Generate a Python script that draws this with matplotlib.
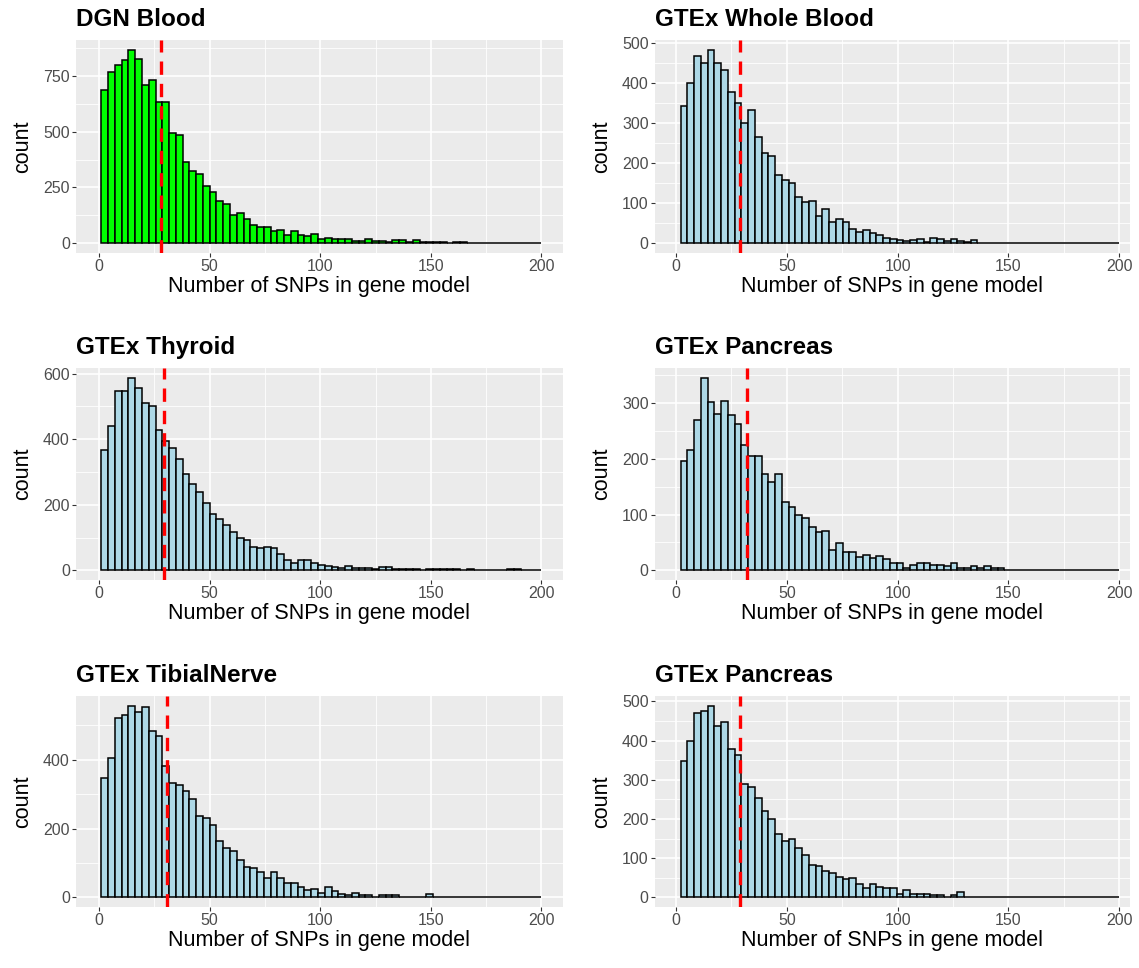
import numpy as np
import matplotlib
matplotlib.use('Agg')
import matplotlib.pyplot as plt

plt.rcParams['font.family'] = ['Liberation Sans', 'DejaVu Sans']

# Histogram counts per bin (65 bins).
dgnBlood = [685, 765, 798, 819, 867, 825, 709, 732, 634, 634, 492, 485, 364, 324, 310,
            256, 229, 188, 175, 127, 136, 107, 80, 72, 72, 53, 60, 38, 53, 38,
            32, 41, 18, 26, 18, 18, 18, 11, 11, 20, 12, 12, 5, 14, 14, 5, 14,
            4, 4, 4, 4, 0, 4, 4, 0, 3, 3, 3, 3, 3, 3, 3, 3, 3, 0]
wholeBlood = [344, 400, 468, 450, 484, 450, 434, 378, 351, 301, 333, 265, 226, 219, 171,
              159, 150, 116, 103, 105, 68, 87, 53, 60, 53, 36, 29, 34, 25, 22,
              14, 11, 8, 6, 8, 11, 3, 14, 11, 6, 11, 6, 3, 8, 2, 2, 2, 0, 2, 0,
              2, 2, 2, 2, 2, 2, 0, 2, 2, 0, 0, 0, 0, 0, 0]
thyroid = [368, 441, 547, 547, 588, 557, 511, 501, 429, 396, 373, 341, 294, 262, 239,
           205, 171, 157, 139, 118, 100, 92, 72, 69, 72, 69, 51, 31, 21, 31,
           31, 23, 15, 12, 10, 7, 12, 7, 7, 7, 3, 10, 10, 3, 3, 3, 3, 0, 3, 3,
           3, 3, 3, 0, 3, 0, 0, 0, 0, 0, 3, 3, 0, 0, 0]
pancreas = [196, 216, 269, 345, 302, 280, 304, 278, 262, 224, 205, 205, 172, 159, 172,
            122, 113, 100, 94, 78, 68, 70, 37, 49, 32, 32, 24, 27,
            22, 26, 21, 13, 13, 4, 10, 13, 13, 9, 10, 8, 14, 4, 4, 8, 4, 8, 4, 4,
            1, 1, 1, 1, 1, 0, 1, 1, 0, 0, 1, 0, 1, 1, 0, 1, 0]
tibialNerve = [348, 404, 522, 531, 557, 539, 552, 483, 470, 383, 333, 325, 308, 287, 236,
               230, 210, 165, 143, 134, 108, 88, 84, 73, 56, 73, 56, 43, 43, 29,
               21, 24, 14, 29, 19, 10, 7, 12, 7, 7, 2, 8, 8, 8, 2, 2, 2, 2, 9, 0,
               2, 2, 2, 2, 0, 2, 2, 2, 2, 2, 0, 0, 0, 0, 0]
pancreas2 = [347, 400, 469, 476, 489, 438, 447, 378, 362, 290, 282, 253, 221, 201, 161,
             145, 148, 125, 107, 83, 79, 68, 61, 53, 47, 49, 34, 25,
             34, 26, 24, 24, 9, 19, 9, 9, 9, 7, 7, 2, 7, 13, 2, 2, 0, 2, 0, 0,
             2, 0, 2, 0, 0, 0, 2, 2, 0, 2, 0, 0, 0, 0, 0, 0, 0]

titles = ['DGN Blood', 'GTEx Whole Blood', 'GTEx Thyroid', 'GTEx Pancreas',
          'GTEx TibialNerve', 'GTEx Pancreas']
allCounts = [dgnBlood, wholeBlood, thyroid, pancreas, tibialNerve, pancreas2]
binStart = [1.0, 2.1, 1.0, 2.1, 1.0, 2.1]
binEnd = [200.0, 200.0, 200.0, 200.0, 200.0, 200.0]
meanLine = [27.9, 28.8, 29.3, 32.1, 30.5, 28.8]
fillColors = ['#00FF00', '#ADD8E6', '#ADD8E6', '#ADD8E6', '#ADD8E6', '#ADD8E6']
yStep = [250, 100, 200, 100, 200, 100]

W, H = 1139, 968
fig = plt.figure(figsize=(W / 100, H / 100), dpi=100)

# panel boxes in pixels: left, right, top, bottom
colX = [(76, 563), (655, 1130)]
colXlim = [(-10.5, 209.8), (-9.5, 204.9)]
rowY = [(40, 253), (368, 580), (696, 907)]

for i in range(6):
    r, c = i // 2, i % 2
    x0, x1 = colX[c]
    y0, y1 = rowY[r]
    ax = fig.add_axes([x0 / W, 1 - y1 / H, (x1 - x0) / W, (y1 - y0) / H])
    counts = np.array(allCounts[i])
    edges = np.linspace(binStart[i], binEnd[i], len(counts) + 1)
    ax.set_facecolor('#EBEBEB')
    ax.set_axisbelow(True)
    ax.bar(edges[:-1], counts, width=np.diff(edges), align='edge',
           color=fillColors[i], edgecolor='black', linewidth=1.1, zorder=2)
    ax.axvline(meanLine[i], color='red', linewidth=2.4, linestyle=(0, (4, 2.7)), zorder=3)

    ax.set_xlim(*colXlim[c])
    ymax = counts.max()
    ax.set_ylim(-0.05 * ymax, 1.05 * ymax)

    ax.set_xticks([0, 50, 100, 150, 200])
    ax.set_xticks([25, 75, 125, 175], minor=True)
    step = yStep[i]
    ax.set_yticks(np.arange(0, ymax * 1.05 + 1, step))
    ax.set_yticks(np.arange(step / 2, ymax * 1.05 + 1, step), minor=True)
    ax.grid(which='major', color='white', linewidth=1.2)
    ax.grid(which='minor', color='white', linewidth=0.6)
    for s in ax.spines.values():
        s.set_visible(False)
    ax.tick_params(which='major', length=3, width=0.8, color='#333333',
                   labelcolor='#4D4D4D', labelsize=11.5, pad=1.5)
    ax.tick_params(which='minor', length=0)

    ax.set_xlabel('Number of SNPs in gene model', fontsize=15.5, color='black', labelpad=1)
    ax.set_ylabel('count', fontsize=15.5, color='black', labelpad=7)
    ax.set_title(titles[i], loc='left', fontsize=17.5, fontweight='bold', pad=10)

fig.savefig('out.png', dpi=100, facecolor='white')
